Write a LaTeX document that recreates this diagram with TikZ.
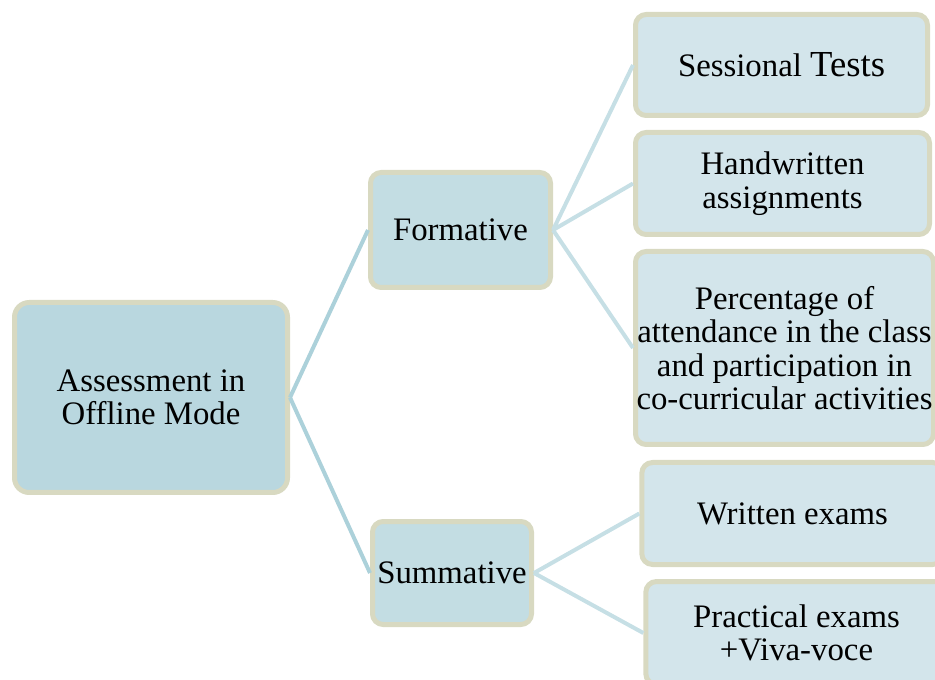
\documentclass[tikz,border=0pt]{standalone}
\usepackage{fontspec}
\setmainfont{Liberation Serif}
\usepackage{tikz}
\usetikzlibrary{positioning}
\definecolor{rimcol}{HTML}{D8D9C1}
\definecolor{rootfill}{HTML}{B9D7DF}
\definecolor{midfill}{HTML}{C3DDE3}
\definecolor{leaffill}{HTML}{D3E5EB}
\definecolor{linkdark}{HTML}{ACD1DA}
\definecolor{linklight}{HTML}{C6DFE5}
\tikzset{box/.style={draw=rimcol, line width=3.75pt, align=center, inner sep=0pt, font=\fontsize{24.6}{25}\selectfont}}
\tikzset{rootbox/.style={box, fill=rootfill, rounded corners=11pt, minimum width=204.75pt, minimum height=142.5pt}}
\tikzset{midbox/.style={box, fill=midfill, rounded corners=8pt}}
\tikzset{leafbox/.style={box, fill=leaffill, rounded corners=8pt, minimum width=226pt, minimum height=76.5pt}}
\tikzset{link/.style={draw=linkdark, line width=3pt}}
\tikzset{link2/.style={draw=linklight, line width=3pt}}

\begin{document}
\begin{tikzpicture}[x=0.75pt, y=-0.75pt]
                \useasboundingbox (0,0) rectangle (935,680);
                \node[rootbox] (root) at (151,397.5) {Assessment in\\Offline Mode};
                \node[midbox, minimum width=135pt, minimum height=86.25pt] (form) at (460.5,230) {Formative};
                \node[midbox, minimum width=119.25pt, minimum height=77.25pt] (summ) at (452,573) {Summative};
                %
                \node[leafbox, minimum width=219pt, minimum height=75.75pt] (sess) at (781.5,65)
                    {Sessional {\fontsize{27.5}{27.5}\selectfont Tests}};
                \node[leafbox, minimum width=220.5pt] (hand) at (782.5,183.5) {Handwritten\\assignments};
                \node[leafbox, minimum width=223.5pt, minimum height=144.75pt] (perc) at (784.5,348)
                    {Percentage of\\attendance in the class\\and participation in\\co-curricular activities};
                \node[leafbox, minimum height=76.5pt] (writ) at (792.5,513.5) {Written exams};
                \node[leafbox, minimum height=77.25pt] (prac) at (796.5,633) {Practical exams\\+Viva-voce};
                %
                \draw[link] (root.east) -- (form.west);
                \draw[link] (root.east) -- (summ.west);
                %
                \draw[link2] (form.east) -- (sess.west);
                \draw[link2] (form.east) -- (hand.west);
                \draw[link2] (form.east) -- (perc.west);
                \draw[link2] (summ.east) -- (writ.west);
                \draw[link2] (summ.east) -- (prac.west);
                %
            \end{tikzpicture}
\end{document}
